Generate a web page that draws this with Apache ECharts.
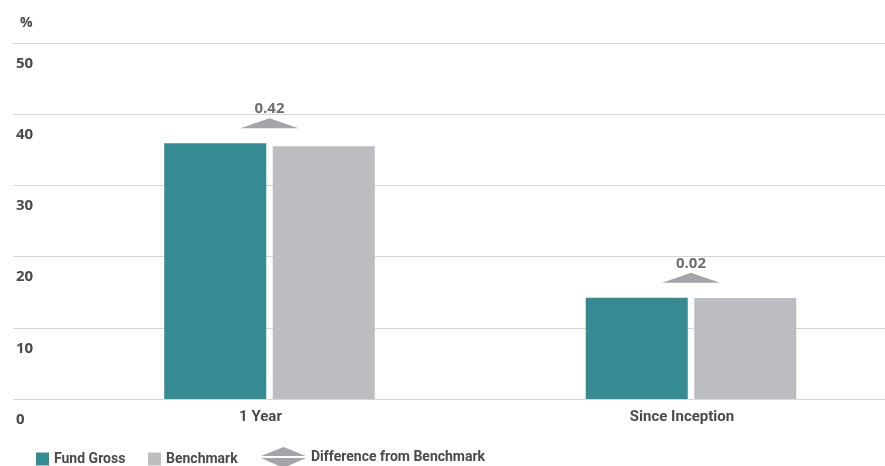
<!DOCTYPE html>
<html>
<head>
<meta charset="utf-8">
<script src="https://cdn.jsdelivr.net/npm/echarts@6/dist/echarts.min.js"></script>
<style>
  html, body { margin: 0; padding: 0; background: #ffffff; }
  #chart { width: 885px; height: 466px; }
</style>
</head>
<body>
<div id="chart"></div>
<script>
// Performance periods and returns (%)
const categories = ['1 Year', 'Since Inception'];
const fundGross  = [35.92, 14.21];
const benchmark  = [35.50, 14.19];
const difference = [0.42, 0.02];

// Value axis ticks
const yMin = 0;
const yMax = 50;
const yStep = 10;

const TEAL = '#368a92';
const GREY = '#bcbdc1';
const MARK = '#8e8f94';
const TEXT = '#4a4a4a';
const LABEL_FONT = "Roboto, sans-serif";
const NUM = "'Open Sans', sans-serif";

const triangleUp = 'path://M0,10 L29,0 L58,10 Z';
const splitDiamond = 'path://M0,9 L22.5,0 L45,9 Z M0,11 L45,11 L22.5,21 Z';

const chart = echarts.init(document.getElementById('chart'), null, { renderer: 'canvas' });

const diffPoints = categories.map((c, i) => [c, Math.max(fundGross[i], benchmark[i])]);
const legendText = { color: TEXT, fontFamily: LABEL_FONT, fontWeight: 'bold', fontSize: 14 };

chart.setOption({
  animation: false,
  backgroundColor: '#ffffff',
  grid: [
    // frame for gridlines and value labels
    { left: 13, right: 0, top: 43, bottom: 67 },
    // the two periods sit on the left and right edges of this frame
    { left: 269.5, right: 194, top: 43, bottom: 67 }
  ],
  xAxis: [
    { gridIndex: 0, type: 'value', show: false, min: 0, max: 1 },
    {
      gridIndex: 1, type: 'category', data: categories, boundaryGap: false,
      axisLine: { show: false }, axisTick: { show: false },
      axisLabel: {
        color: TEXT, fontFamily: LABEL_FONT, fontWeight: 'bold', fontSize: 15,
        margin: 11, padding: [0, 18, 0, 0]
      }
    }
  ],
  yAxis: [
    {
      gridIndex: 0, type: 'value', min: yMin, max: yMax, interval: yStep,
      name: '%', nameLocation: 'end', nameGap: 13,
      nameTextStyle: { color: TEXT, fontFamily: NUM, fontWeight: 'bold', fontSize: 14, align: 'left', padding: [0, 0, 0, 7] },
      axisLine: { show: false }, axisTick: { show: false },
      axisLabel: {
        inside: true, margin: 3, color: TEXT, fontFamily: NUM, fontWeight: 'bold', fontSize: 15,
        verticalAlign: 'top', padding: [13, 0, 0, 0]
      },
      splitLine: { show: true, lineStyle: { color: '#d6d6d6', width: 1 } }
    },
    {
      gridIndex: 1, type: 'value', min: yMin, max: yMax, interval: yStep, show: false,
      splitLine: { show: false }
    }
  ],
  legend: [
    {
      left: 36, top: 452, padding: 0, itemWidth: 13, itemHeight: 13, icon: 'rect',
      data: ['Fund Gross'], textStyle: legendText
    },
    {
      left: 148, top: 452, padding: 0, itemWidth: 13, itemHeight: 13, icon: 'rect',
      data: ['Benchmark'], textStyle: legendText
    },
    {
      left: 261, top: 447, padding: 0, itemWidth: 45, itemHeight: 21,
      data: [{ name: 'Difference from Benchmark', icon: splitDiamond }],
      textStyle: legendText
    }
  ],
  series: [
    {
      name: 'Fund Gross', type: 'bar', xAxisIndex: 1, yAxisIndex: 1,
      data: fundGross, barWidth: 102, barGap: '6.4%',
      itemStyle: { color: TEAL }
    },
    {
      name: 'Benchmark', type: 'bar', xAxisIndex: 1, yAxisIndex: 1,
      data: benchmark, barWidth: 102, barGap: '6.4%',
      itemStyle: { color: GREY }
    },
    {
      name: 'Difference from Benchmark', type: 'scatter', xAxisIndex: 1, yAxisIndex: 1,
      data: diffPoints,
      symbol: triangleUp, symbolSize: [58, 10], symbolOffset: [0, -20],
      itemStyle: { color: MARK },
      label: {
        show: true, position: 'top', distance: 2,
        color: TEXT, fontFamily: NUM, fontWeight: 'bold', fontSize: 15,
        formatter: p => difference[p.dataIndex].toFixed(2)
      }
    }
  ]
});
</script>
</body>
</html>
